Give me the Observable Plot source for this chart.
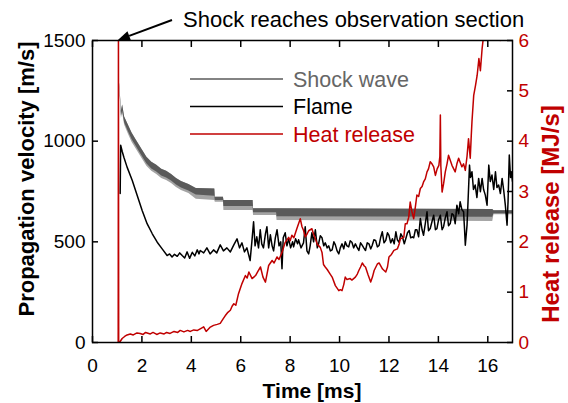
<!DOCTYPE html>
<html><head><meta charset="utf-8">
<script src="https://cdn.jsdelivr.net/npm/d3@7"></script>
<script src="https://cdn.jsdelivr.net/npm/@observablehq/plot@0.6"></script>
<style>
html,body{margin:0;padding:0;background:#fff;}
#chart{position:relative;width:568px;height:403px;}
</style></head><body><div id="chart"></div>
<script>
// ---- data ----
const xTicks = [0,2,4,6,8,10,12,14,16];
const vTicks = [0,500,1000,1500];
const hrrTicks = [0,1,2,3,4,5,6];

// shock wave: envelope of the quantised signal (upper, dense lower, sparse lower) [m/s]
const shockT   = [1.10,1.17,1.22,1.30,1.45,1.60,1.75,1.90,2.05,2.20,2.40,2.60,2.80,3.00,3.20,3.40,3.60,3.90,4.20,4.95,4.97,5.30,5.32,6.50,6.52,7.45,7.47,16.20,16.25,17.0];
const shockHi  = [1290,1150,1180,1120,1080,1040,1010,980,950,920,895,880,860,850,835,815,800,785,765,763,722,722,705,705,664,664,664,661,655,655];
const shockMid = [1275,1125,1150,1092,1048,1008,978,948,918,888,862,847,827,817,802,782,767,752,732,727,705,705,675,675,645,645,625,622,640,640];
const shockLo  = [1265,1112,1140,1080,1035,995,965,935,905,875,850,835,815,805,790,770,755,740,712,705,697,697,656,656,631,631,606,601,635,635];

// flame propagation velocity [m/s]
const flameT = [1.12,1.14,1.20,1.27,1.40,1.61,1.81,2.01,2.21,2.42,2.62,2.82,3.02,3.12,3.22,3.32,3.43,3.53,3.63,3.73,3.83,3.93,4.04,4.14,4.24,4.31,4.36,4.50,4.63,4.76,4.90,5.03,5.17,5.30,5.44,5.58,5.72,5.85,5.95,6.05,6.15,6.25,6.38,6.45,6.52,6.58,6.65,6.72,6.79,6.85,6.92,7.00,7.06,7.13,7.20,7.27,7.33,7.40,7.47,7.55,7.62,7.67,7.72,7.80,7.87,7.94,8.02,8.10,8.14,8.22,8.30,8.34,8.44,8.54,8.61,8.68,8.75,8.81,8.88,8.95,9.02,9.10,9.15,9.22,9.29,9.36,9.42,9.50,9.56,9.63,9.70,9.77,9.83,9.90,9.97,10.03,10.10,10.17,10.23,10.30,10.37,10.43,10.50,10.57,10.64,10.70,10.78,10.85,10.92,10.98,11.05,11.12,11.19,11.26,11.32,11.39,11.46,11.53,11.60,11.66,11.73,11.80,11.87,11.94,12.00,12.07,12.14,12.21,12.28,12.34,12.41,12.48,12.55,12.62,12.68,12.75,12.82,12.88,12.95,13.00,13.07,13.13,13.20,13.27,13.34,13.40,13.47,13.54,13.60,13.67,13.74,13.81,13.88,13.94,14.01,14.08,14.15,14.21,14.28,14.35,14.41,14.48,14.55,14.62,14.68,14.75,14.82,14.88,14.95,15.02,15.06,15.09,15.13,15.16,15.20,15.26,15.30,15.36,15.42,15.49,15.56,15.63,15.70,15.77,15.83,15.90,15.97,16.04,16.10,16.17,16.24,16.31,16.37,16.44,16.51,16.58,16.64,16.71,16.78,16.82,16.87,16.92,16.95,17.00];
const flameV = [740,980,950,920,871,805,730,656,590,540,498,465,432,440,425,438,428,445,432,420,450,418,448,430,460,440,457,445,470,440,460,445,485,455,470,450,485,515,470,495,450,470,407,500,600,480,525,470,560,490,470,540,575,470,535,480,455,520,560,480,500,366,520,545,480,515,470,500,475,515,490,510,470,495,575,455,440,480,545,500,560,470,490,530,520,480,495,470,480,455,460,500,485,455,440,470,490,465,500,480,475,505,498,470,490,475,457,495,482,470,457,495,490,465,482,510,507,475,482,520,550,495,507,545,532,495,515,490,550,510,498,540,523,490,515,545,556,520,525,520,560,560,525,616,560,533,590,649,555,566,600,632,560,566,610,632,560,575,620,649,580,591,640,632,590,682,640,699,660,649,560,483,540,583,700,881,820,848,760,782,720,815,749,815,760,732,682,881,800,832,760,848,770,782,740,815,760,682,583,700,931,820,848,800];

// heat release rate [MJ/s]
const heatT = [1.04,1.05,1.06,1.12,1.20,1.30,1.40,1.53,1.65,1.80,1.93,2.05,2.15,2.34,2.45,2.60,2.74,2.90,3.00,3.14,3.30,3.45,3.55,3.70,3.85,3.96,4.10,4.25,4.36,4.50,4.60,4.75,4.90,5.05,5.17,5.30,5.37,5.48,5.58,5.65,5.72,5.80,5.91,6.05,6.19,6.26,6.33,6.46,6.60,6.70,6.80,6.90,7.00,7.13,7.27,7.35,7.47,7.55,7.67,7.80,7.94,8.00,8.07,8.15,8.27,8.41,8.48,8.54,8.61,8.68,8.75,8.88,8.95,9.02,9.10,9.22,9.29,9.35,9.42,9.50,9.62,9.70,9.83,9.90,9.97,10.03,10.10,10.17,10.23,10.30,10.43,10.50,10.64,10.72,10.78,10.85,10.92,11.00,11.05,11.15,11.26,11.33,11.40,11.53,11.60,11.74,11.87,11.94,12.00,12.10,12.20,12.34,12.41,12.46,12.60,12.66,12.73,12.80,12.86,12.93,13.00,13.07,13.13,13.20,13.27,13.34,13.40,13.47,13.54,13.60,13.67,13.74,13.81,13.88,13.95,14.02,14.06,14.08,14.10,14.15,14.21,14.28,14.35,14.41,14.48,14.55,14.62,14.68,14.75,14.82,14.88,14.95,15.02,15.09,15.16,15.22,15.29,15.33,15.36,15.43,15.50,15.57,15.64,15.70,15.77,15.83,15.90,16.00,16.10,16.30,16.50,16.60,17.00];
const heatV = [0,6.5,0,0.02,0.08,0.12,0.15,0.17,0.15,0.19,0.18,0.16,0.20,0.17,0.20,0.16,0.19,0.17,0.20,0.18,0.22,0.20,0.24,0.21,0.24,0.22,0.25,0.24,0.27,0.31,0.22,0.30,0.34,0.36,0.38,0.48,0.53,0.60,0.64,0.72,0.77,0.74,0.97,1.17,1.33,1.28,1.40,1.27,1.33,1.42,1.50,1.30,1.20,1.53,1.63,1.58,1.70,1.65,1.79,1.99,2.09,2.02,2.13,2.08,2.26,2.46,2.30,2.23,2.10,2.15,2.22,2.26,2.15,2.06,1.95,1.89,1.79,1.55,1.50,1.45,1.36,1.30,1.13,1.08,1.03,1.05,1.03,1.15,1.30,1.25,1.27,1.24,1.30,1.36,1.43,1.50,1.58,1.52,1.50,1.35,1.20,1.30,1.43,1.56,1.58,1.46,1.40,1.50,1.70,1.75,1.83,1.86,1.95,2.06,2.09,2.36,2.36,2.49,2.79,2.60,2.46,2.70,2.93,2.90,3.06,3.10,3.19,3.25,3.39,3.45,3.59,3.55,3.49,3.32,3.45,3.52,3.70,4.52,3.50,2.99,3.15,3.39,3.55,3.72,3.62,3.52,3.45,3.39,3.55,3.66,3.58,3.49,3.55,3.42,3.70,4.05,3.66,4.10,4.39,4.91,5.10,5.31,5.64,5.40,5.84,6.10,6.40,6.00,6.60,6.90,6.00,6.80,7.20];

// ---- build ----
const K = 1500 / 6; // m/s per MJ/s (shared vertical scale)
const RED = "#c00000", GRAY = "#5a5a5a";
const FONT = "'Liberation Sans', Arial, sans-serif";
const shock = shockT.map((t, i) => ({t, hi: shockHi[i], mid: shockMid[i], lo: shockLo[i]}));
const flame = flameT.map((t, i) => ({t, v: flameV[i]}));
const heat = heatT.map((t, i) => ({t, v: heatV[i] * K}));

const chart = Plot.plot({
  width: 568, height: 403,
  marginLeft: 92, marginRight: 56, marginTop: 40, marginBottom: 61,
  style: {fontFamily: FONT, fontSize: "19px", color: "#000", background: "#fff", overflow: "visible"},
  x: {domain: [0, 17]},
  y: {domain: [0, 1500]},
  marks: [
    Plot.areaY(shock, {x: "t", y1: "lo", y2: "hi", fill: GRAY, fillOpacity: 0.55, clip: true}),
    Plot.areaY(shock, {x: "t", y1: "mid", y2: "hi", fill: GRAY, clip: true}),
    Plot.line(flame, {x: "t", y: "v", stroke: "#000", strokeWidth: 1.5, clip: true}),
    Plot.line(heat, {x: "t", y: "v", stroke: RED, strokeWidth: 1.5, clip: true}),
    Plot.frame({stroke: "#000", strokeWidth: 1.5}),
    Plot.axisX({ticks: xTicks, anchor: "bottom", tickSize: -6, tickPadding: 22, tickFormat: d => String(d), label: null, strokeWidth: 1.5}),
    Plot.axisX({ticks: xTicks, anchor: "top", tickSize: -6, tickFormat: () => "", label: null, strokeWidth: 1.5}),
    Plot.axisY({ticks: vTicks, anchor: "left", tickSize: -6, tickPadding: 13, tickFormat: d => String(d), label: null, strokeWidth: 1.5}),
    Plot.axisY({ticks: hrrTicks.map(d => d * K), anchor: "right", tickSize: -6, tickFormat: () => "", label: null, strokeWidth: 1.5}),
    Plot.axisY({ticks: hrrTicks.map(d => d * K), anchor: "right", tickSize: 0, tickPadding: 6, tickFormat: d => String(d / K), label: null, color: RED})
  ]
});
document.getElementById("chart").appendChild(chart);

// ---- titles, legend, annotation ----
const svg = d3.select(chart);
const sx = chart.scale("x"), sy = chart.scale("y");
const g = svg.append("g").attr("font-family", FONT).attr("text-anchor", "start");

g.append("text").attr("transform", "translate(34,179) rotate(-90)")
  .attr("text-anchor", "middle").attr("font-weight", "bold").attr("font-size", 22).attr("fill", "#000")
  .text("Propagation velocity [m/s]");
g.append("text").attr("transform", "translate(559,214) rotate(-90)")
  .attr("text-anchor", "middle").attr("font-weight", "bold").attr("font-size", 24).attr("fill", RED)
  .text("Heat release [MJ/s]");
g.append("text").attr("x", 312).attr("y", 398)
  .attr("text-anchor", "middle").attr("font-weight", "bold").attr("font-size", 21).attr("fill", "#000")
  .text("Time [ms]");

const legend = [
  {label: "Shock wave", color: GRAY, text: "#666"},
  {label: "Flame", color: "#000", text: "#000"},
  {label: "Heat release", color: RED, text: RED}
];
legend.forEach((d, i) => {
  const y = 79 + i * 27.5;
  g.append("line").attr("x1", 190).attr("x2", 283).attr("y1", y).attr("y2", y)
    .attr("stroke", d.color).attr("stroke-width", 1.3);
  g.append("text").attr("x", 293).attr("y", y).attr("dy", "0.35em").attr("text-anchor", "start")
    .attr("font-size", 21.5).attr("fill", d.text).text(d.label);
});

// annotation arrow pointing to where the shock reaches the section
const ax = sx.apply(1.05), ay = sy.apply(1500);
const tx = 172, ty = 20;
const ang = Math.atan2(ay - ty, ax - tx);
const hl = 12, hw = 5;
const bx = ax - hl * Math.cos(ang), by = ay - hl * Math.sin(ang);
g.append("line").attr("x1", tx).attr("y1", ty).attr("x2", bx).attr("y2", by)
  .attr("stroke", "#000").attr("stroke-width", 2);
g.append("path").attr("fill", "#000").attr("d",
  `M${ax},${ay}L${bx + hw * Math.sin(ang)},${by - hw * Math.cos(ang)}L${bx - hw * Math.sin(ang)},${by + hw * Math.cos(ang)}Z`);
g.append("text").attr("x", 183).attr("y", 19).attr("dy", "0.35em").attr("text-anchor", "start")
  .attr("font-size", 22).attr("fill", "#000").text("Shock reaches observation section");
</script>
</body></html>
